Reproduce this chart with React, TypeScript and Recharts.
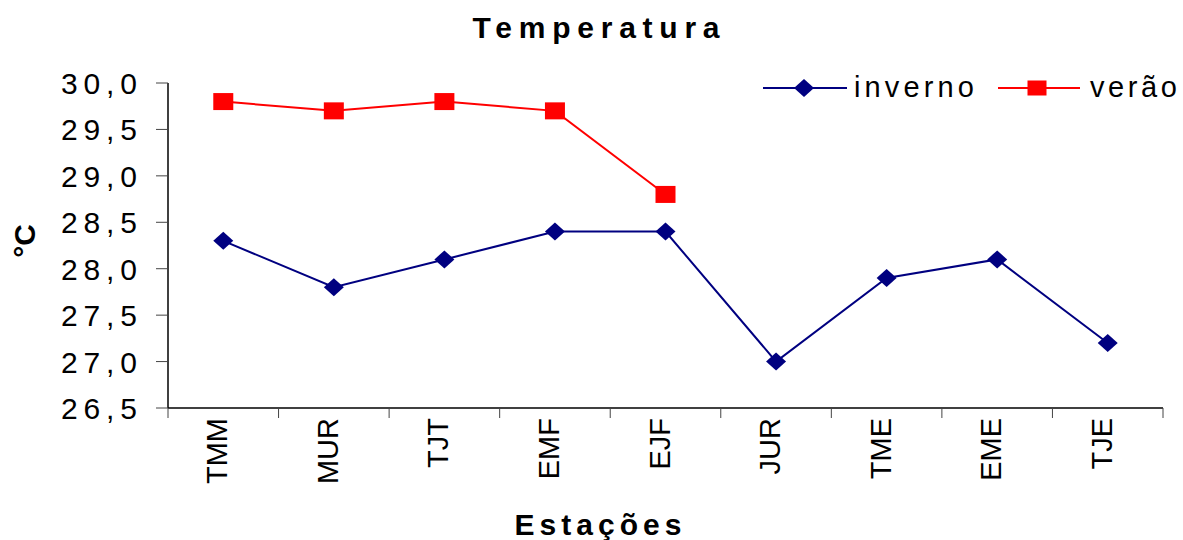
import { LineChart, Line, XAxis, YAxis } from 'recharts'

const stations = ['TMM', 'MUR', 'TJT', 'EMF', 'EJF', 'JUR', 'TME', 'EME', 'TJE']
const inverno = [28.3, 27.8, 28.1, 28.4, 28.4, 27.0, 27.9, 28.1, 27.2]
const verao: Array<number | null> = [29.8, 29.7, 29.8, 29.7, 28.8, null, null, null, null]
const yTicks = [26.5, 27, 27.5, 28, 28.5, 29, 29.5, 30]

const NAVY = '#000080'
const RED = '#ff0000'
const FONT = '"Liberation Sans", Arial, sans-serif'

const data = stations.map((station, i) => ({
  station,
  inverno: inverno[i],
  verao: verao[i],
}))

const Diamond = (props: any) => {
  const { cx, cy } = props
  if (cx == null || cy == null) return null
  return (
    <polygon
      points={`${cx},${cy - 9} ${cx + 10},${cy} ${cx},${cy + 9} ${cx - 10},${cy}`}
      fill={NAVY}
    />
  )
}

const Square = (props: any) => {
  const { cx, cy } = props
  if (cx == null || cy == null) return null
  return <rect x={cx - 10} y={cy - 8.5} width={20} height={17} fill={RED} />
}

const YTick = (props: any) => {
  const { x, y, payload } = props
  const label = payload.value.toFixed(1).replace('.', ',')
  return (
    <text
      x={x}
      y={y + 11}
      textAnchor="end"
      fontSize={30}
      fontFamily={FONT}
      fill="#000"
      textLength={76}
      lengthAdjust="spacing"
    >
      {label}
    </text>
  )
}

// category labels sit in the band centre, tick marks go on the band edges
const XTick = (props: any) => {
  const { x, y, payload, index, visibleTicksCount } = props
  const half = payload.offset ?? 0
  const axisY = y - 10
  const last = index === visibleTicksCount - 1
  return (
    <g>
      <line x1={x - half} y1={axisY} x2={x - half} y2={axisY + 10} stroke="#444" />
      {last && <line x1={x + half} y1={axisY} x2={x + half} y2={axisY + 10} stroke="#444" />}
      <text
        transform={`translate(${x + 4},${y}) rotate(-90)`}
        textAnchor="end"
        fontSize={29}
        fontFamily={FONT}
        fill="#000"
      >
        {payload.value}
      </text>
    </g>
  )
}

export default function App() {
  return (
    <div style={{ position: 'absolute', left: 0, top: 0, width: 1183, height: 540, background: '#fff' }}>
      <LineChart
        width={1183}
        height={540}
        data={data}
        margin={{ top: 83, right: 20, bottom: 0, left: 0 }}
      >
        <XAxis
          dataKey="station"
          type="category"
          scale="band"
          height={132}
          tickLine={false}
          tickSize={10}
          tickMargin={0}
          interval={0}
          axisLine={{ stroke: '#000', strokeWidth: 1.5 }}
          tick={<XTick />}
        />
        <YAxis
          width={168}
          domain={[26.5, 30]}
          ticks={yTicks}
          interval={0}
          tickSize={12}
          tickMargin={19}
          tickLine={{ stroke: '#444', strokeWidth: 1 }}
          axisLine={{ stroke: '#000', strokeWidth: 1.5 }}
          tick={<YTick />}
        />
        <Line
          dataKey="inverno"
          stroke={NAVY}
          strokeWidth={2}
          dot={<Diamond />}
          activeDot={false}
          isAnimationActive={false}
        />
        <Line
          dataKey="verao"
          stroke={RED}
          strokeWidth={2}
          dot={<Square />}
          activeDot={false}
          connectNulls={false}
          isAnimationActive={false}
        />
      </LineChart>
      <svg
        width={1183}
        height={540}
        style={{ position: 'absolute', left: 0, top: 0, pointerEvents: 'none' }}
      >
        <text x={596} y={38} textAnchor="middle" fontSize={30} fontWeight="bold" fontFamily={FONT} textLength={247} lengthAdjust="spacing">
          Temperatura
        </text>
        <text x={598} y={535} textAnchor="middle" fontSize={30} fontWeight="bold" fontFamily={FONT} textLength={167} lengthAdjust="spacing">
          Estações
        </text>
        <text transform="translate(35,241) rotate(-90)" textAnchor="middle" fontSize={30} fontWeight="bold" fontFamily={FONT}>
          °C
        </text>
        <line x1={763} y1={88} x2={847} y2={88} stroke={NAVY} strokeWidth={2} />
        <polygon points="804,79 814,88 804,97 794,88" fill={NAVY} />
        <text x={854} y={97} fontSize={29} fontFamily={FONT} textLength={120} lengthAdjust="spacing">
          inverno
        </text>
        <line x1={998} y1={88} x2={1080} y2={88} stroke={RED} strokeWidth={2} />
        <rect x={1027.5} y={80.5} width={19} height={15} fill={RED} />
        <text x={1090} y={97} fontSize={29} fontFamily={FONT} textLength={87} lengthAdjust="spacing">
          verão
        </text>
      </svg>
    </div>
  )
}
